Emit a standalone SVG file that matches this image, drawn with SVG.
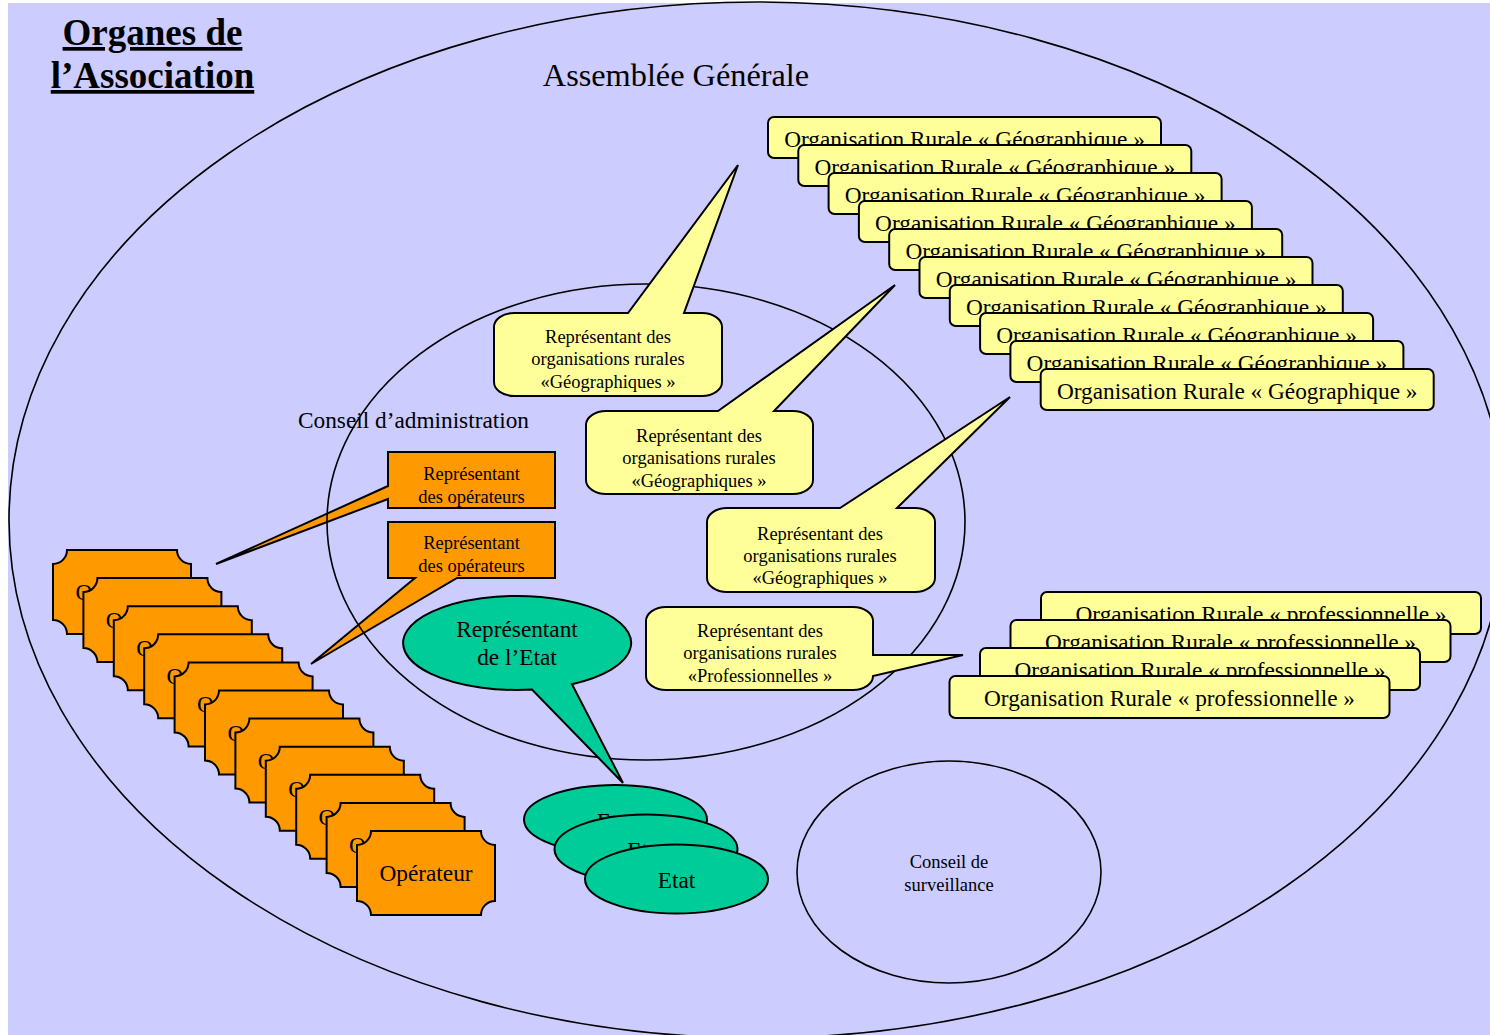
<svg xmlns="http://www.w3.org/2000/svg" xmlns:xlink="http://www.w3.org/1999/xlink" width="1490" height="1035" viewBox="0 0 1490 1035">
<style>
text { font-family: "Liberation Serif", "Times New Roman", serif; fill: #000; }
.c { text-anchor: middle; }
.f23 { font-size: 23.3px; }
.f18 { font-size: 18.5px; }
.line { fill: none; stroke: #000; stroke-width: 1.6; }
.yel { fill: #FFFF99; stroke: #000; stroke-width: 2; }
.ora { fill: #FF9900; stroke: #000; stroke-width: 2; }
.grn { fill: #00CC99; stroke: #000; stroke-width: 2; }
</style>
<defs>
<rect id="geo" width="393" height="41" rx="6" class="yel"/>
<rect id="pro" width="440" height="42" rx="6" class="yel"/>
<path id="plaque" class="ora" d="M14,0 H124 A14,14 0 0 0 138,14 V70 A14,14 0 0 0 124,84 H14 A14,14 0 0 0 0,70 V14 A14,14 0 0 0 14,0 Z"/>
</defs>

<rect x="8" y="3" width="1482" height="1032" fill="#CCCCFF"/>

<g id="assemblee-generale">
<ellipse cx="757" cy="520" rx="748" ry="518" class="line"/>
<text x="676" y="86" class="c" font-size="32.3">Assemblée Générale</text>
</g>

<g id="titre">
<text x="152.5" y="45" class="c" font-size="37" font-weight="bold" text-decoration="underline">Organes de</text>
<text x="152.5" y="88" class="c" font-size="37" font-weight="bold" text-decoration="underline">l’Association</text>
</g>

<g id="rep-operateurs-1">
<path class="ora" d="M388,452 L555,452 L555,508 L388,508 L388,499 L216,564 L388,486 Z"/>
<text x="471.5" y="480" class="c f18">Représentant</text>
<text x="471.5" y="503" class="c f18">des opérateurs</text>
</g>
<g id="rep-operateurs-2">
<path class="ora" d="M388,522 L555,522 L555,578 L457,578 L311,664 L415,578 L388,578 Z"/>
<text x="471.5" y="549" class="c f18">Représentant</text>
<text x="471.5" y="572" class="c f18">des opérateurs</text>
</g>

<g id="conseil-administration">
<ellipse cx="646" cy="522" rx="319" ry="238" class="line"/>
<text x="298" y="428" class="f23">Conseil d’administration</text>
</g>

<g id="rep-geo-1">
<path class="yel" d="M514,313 H628 L738,165 L684,313 H702 A20,14 0 0 1 722,327 V382 A20,14 0 0 1 702,396 H514 A20,14 0 0 1 494,382 V327 A20,14 0 0 1 514,313 Z"/>
<text x="608" y="343" class="c f18">Représentant des</text>
<text x="608" y="365" class="c f18">organisations rurales</text>
<text x="608" y="388" class="c f18">«Géographiques »</text>
</g>
<g id="rep-geo-2">
<path class="yel" d="M606,411 H718 L895,285 L774,411 H793 A20,14 0 0 1 813,425 V480 A20,14 0 0 1 793,494 H606 A20,14 0 0 1 586,480 V425 A20,14 0 0 1 606,411 Z"/>
<text x="699" y="442" class="c f18">Représentant des</text>
<text x="699" y="464" class="c f18">organisations rurales</text>
<text x="699" y="487" class="c f18">«Géographiques »</text>
</g>
<g id="rep-geo-3">
<path class="yel" d="M727,508 H840 L1010,397 L897,508 H915 A20,14 0 0 1 935,522 V578 A20,14 0 0 1 915,592 H727 A20,14 0 0 1 707,578 V522 A20,14 0 0 1 727,508 Z"/>
<text x="820" y="540" class="c f18">Représentant des</text>
<text x="820" y="562" class="c f18">organisations rurales</text>
<text x="820" y="584" class="c f18">«Géographiques »</text>
</g>
<g id="rep-pro">
<path class="yel" d="M666,607 H853 A20,14 0 0 1 873,621 V655 L963,655 L873,676 A20,14 0 0 1 853,690 H666 A20,14 0 0 1 646,676 V621 A20,14 0 0 1 666,607 Z"/>
<text x="760" y="637" class="c f18">Représentant des</text>
<text x="760" y="659" class="c f18">organisations rurales</text>
<text x="760" y="682" class="c f18">«Professionnelles »</text>
</g>

<g id="rep-etat">
<path class="grn" d="M532,689.6 A114,47 0 1 1 572,684.2 L623,783 Z"/>
<text x="517" y="637" class="c f23">Représentant</text>
<text x="517" y="665" class="c f23">de l’Etat</text>
</g>

<g id="organisations-geographiques">
<g id="geo-1"><use xlink:href="#geo" x="768" y="117"/><text x="964.5" y="147" class="c f23">Organisation Rurale « Géographique »</text></g>
<g id="geo-2"><use xlink:href="#geo" x="798.3" y="145"/><text x="994.8" y="175" class="c f23">Organisation Rurale « Géographique »</text></g>
<g id="geo-3"><use xlink:href="#geo" x="828.6" y="173"/><text x="1025.1" y="203" class="c f23">Organisation Rurale « Géographique »</text></g>
<g id="geo-4"><use xlink:href="#geo" x="858.9" y="201"/><text x="1055.4" y="231" class="c f23">Organisation Rurale « Géographique »</text></g>
<g id="geo-5"><use xlink:href="#geo" x="889.2" y="229"/><text x="1085.7" y="259" class="c f23">Organisation Rurale « Géographique »</text></g>
<g id="geo-6"><use xlink:href="#geo" x="919.5" y="257"/><text x="1116" y="287" class="c f23">Organisation Rurale « Géographique »</text></g>
<g id="geo-7"><use xlink:href="#geo" x="949.8" y="285"/><text x="1146.3" y="315" class="c f23">Organisation Rurale « Géographique »</text></g>
<g id="geo-8"><use xlink:href="#geo" x="980.1" y="313"/><text x="1176.6" y="343" class="c f23">Organisation Rurale « Géographique »</text></g>
<g id="geo-9"><use xlink:href="#geo" x="1010.4" y="341"/><text x="1206.9" y="371" class="c f23">Organisation Rurale « Géographique »</text></g>
<g id="geo-10"><use xlink:href="#geo" x="1040.7" y="369"/><text x="1237.2" y="399" class="c f23">Organisation Rurale « Géographique »</text></g>
</g>

<g id="organisations-professionnelles">
<g id="pro-1"><use xlink:href="#pro" x="1041" y="592"/><text x="1261" y="622" class="c f23">Organisation Rurale « professionnelle »</text></g>
<g id="pro-2"><use xlink:href="#pro" x="1010.5" y="620"/><text x="1230.5" y="650" class="c f23">Organisation Rurale « professionnelle »</text></g>
<g id="pro-3"><use xlink:href="#pro" x="980" y="648"/><text x="1200" y="678" class="c f23">Organisation Rurale « professionnelle »</text></g>
<g id="pro-4"><use xlink:href="#pro" x="949.5" y="676"/><text x="1169.5" y="706" class="c f23">Organisation Rurale « professionnelle »</text></g>
</g>

<g id="operateurs">
<g id="op-1" transform="translate(53,550)"><use xlink:href="#plaque"/><text x="69" y="50" class="c f23">Opérateur</text></g>
<g id="op-2" transform="translate(83.4,578.1)"><use xlink:href="#plaque"/><text x="69" y="50" class="c f23">Opérateur</text></g>
<g id="op-3" transform="translate(113.8,606.2)"><use xlink:href="#plaque"/><text x="69" y="50" class="c f23">Opérateur</text></g>
<g id="op-4" transform="translate(144.2,634.3)"><use xlink:href="#plaque"/><text x="69" y="50" class="c f23">Opérateur</text></g>
<g id="op-5" transform="translate(174.6,662.4)"><use xlink:href="#plaque"/><text x="69" y="50" class="c f23">Opérateur</text></g>
<g id="op-6" transform="translate(205,690.5)"><use xlink:href="#plaque"/><text x="69" y="50" class="c f23">Opérateur</text></g>
<g id="op-7" transform="translate(235.4,718.6)"><use xlink:href="#plaque"/><text x="69" y="50" class="c f23">Opérateur</text></g>
<g id="op-8" transform="translate(265.8,746.7)"><use xlink:href="#plaque"/><text x="69" y="50" class="c f23">Opérateur</text></g>
<g id="op-9" transform="translate(296.2,774.8)"><use xlink:href="#plaque"/><text x="69" y="50" class="c f23">Opérateur</text></g>
<g id="op-10" transform="translate(326.6,802.9)"><use xlink:href="#plaque"/><text x="69" y="50" class="c f23">Opérateur</text></g>
<g id="op-11" transform="translate(357,831)"><use xlink:href="#plaque"/><text x="69" y="50" class="c f23">Opérateur</text></g>
</g>

<g id="etats">
<g id="etat-1"><ellipse cx="615.5" cy="819.5" rx="91.5" ry="34.5" class="grn"/><text x="615.5" y="828.5" class="c f23">Etat</text></g>
<g id="etat-2"><ellipse cx="646" cy="849" rx="91.5" ry="34.5" class="grn"/><text x="646" y="858" class="c f23">Etat</text></g>
<g id="etat-3"><ellipse cx="676.5" cy="879" rx="91.5" ry="34.5" class="grn"/><text x="676.5" y="888" class="c f23">Etat</text></g>
</g>

<g id="conseil-surveillance">
<ellipse cx="949" cy="872" rx="152" ry="111" class="line"/>
<text x="949" y="868" class="c f18">Conseil de</text>
<text x="949" y="891" class="c f18">surveillance</text>
</g>
</svg>
